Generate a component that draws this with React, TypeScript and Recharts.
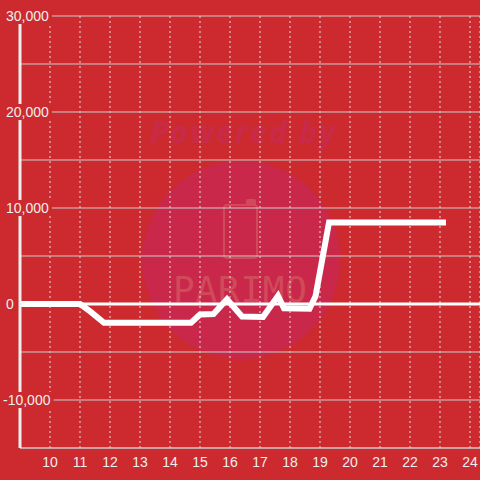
import React from "react";
import {
  LineChart,
  Line,
  CartesianGrid,
  XAxis,
  YAxis,
  ReferenceLine,
} from "recharts";

// ─── Data ─────────────────────────────────────────────────────────────────────

const hours = [
  9, 11, 11.35, 11.8, 14.7, 15.0, 15.45, 15.9, 16.4, 17.1, 17.6, 17.8, 18.65,
  18.85, 19.3, 23.2,
];
const values = [
  0, 0, -800, -1950, -1950, -1100, -1050, 500, -1300, -1350, 850, -450, -500,
  800, 8500, 8500,
];

const xTicks = [10, 11, 12, 13, 14, 15, 16, 17, 18, 19, 20, 21, 22, 23, 24];
const yTicks = [
  -15000, -10000, -5000, 0, 5000, 10000, 15000, 20000, 25000, 30000,
];

const data = hours.map((h, i) => ({ h, v: values[i] }));

// ─── Styles ───────────────────────────────────────────────────────────────────

const BG = "#cc2a2f";
const LABEL = "#eeeeee";
const FONT = "'Liberation Sans', Arial, sans-serif";

function labelWidth(s: string) {
  let w = 0;
  for (const c of s) w += c === "," ? 3.9 : c === "-" ? 4.7 : 7.8;
  return w;
}

function YTick(props: any) {
  const { y, payload } = props;
  const v = payload.value as number;
  if (v % 10000 !== 0) return null;
  const text = v.toLocaleString("en-US");
  const x = v < 0 ? 3 : 6;
  const w = labelWidth(text);
  return (
    <g>
      <rect x={x - 3} y={y - 8} width={w + 6} height={16} fill={BG} />
      <text
        x={x}
        y={y}
        dominantBaseline="central"
        fill={LABEL}
        fontSize={14}
        fontFamily={FONT}
      >
        {text}
      </text>
    </g>
  );
}

function XTick(props: any) {
  const { x, payload } = props;
  return (
    <text
      x={x}
      y={462}
      textAnchor="middle"
      dominantBaseline="central"
      fill={LABEL}
      fontSize={14}
      fontFamily={FONT}
    >
      {payload.value}
    </text>
  );
}

function Watermark() {
  return (
    <svg
      width={480}
      height={480}
      style={{ position: "absolute", left: 0, top: 0 }}
    >
      <circle cx={241} cy={260} r={99} fill="#c9284a" />
      <text
        x={150}
        y={143}
        fontSize={30}
        fontWeight="bold"
        fontStyle="italic"
        fontFamily="'Open Sans', sans-serif"
        fill="#c92a4a"
        textLength={185}
      >
        Powered by
      </text>
      <rect
        x={224}
        y={205}
        width={33}
        height={53}
        rx={3}
        fill="none"
        stroke="#d14a5a"
        strokeWidth={2}
      />
      <rect x={246} y={199} width={10} height={7} rx={2} fill="#d14a5a" />
      <text
        x={173}
        y={302}
        fontSize={36}
        fontFamily="'DejaVu Sans Mono', monospace"
        fill="#d14a5a"
        textLength={134}
      >
        PARIMO
      </text>
    </svg>
  );
}

// ─── Component ────────────────────────────────────────────────────────────────

export default function App() {
  return (
    <div
      style={{
        position: "absolute",
        left: 0,
        top: 0,
        width: 480,
        height: 480,
        background: BG,
      }}
    >
      <Watermark />
      <div style={{ position: "absolute", left: 0, top: 0 }}>
        <LineChart
          width={480}
          height={480}
          data={data}
          margin={{ top: 16, right: 0, left: 0, bottom: 0 }}
        >
          <CartesianGrid
            horizontal={false}
            stroke="#e0e0e0"
            strokeDasharray="2 3"
          />
          <CartesianGrid vertical={false} stroke="#cccccc" />
          <ReferenceLine y={0} stroke="#ffffff" strokeWidth={3} />
          <Line
            type="linear"
            dataKey="v"
            stroke="#ffffff"
            strokeWidth={6}
            dot={false}
            isAnimationActive={false}
          />
          <XAxis
            dataKey="h"
            type="number"
            domain={[9, 24.333]}
            ticks={xTicks}
            allowDataOverflow
            height={32}
            tickLine={false}
            axisLine={{ stroke: "#cccccc" }}
            tick={<XTick />}
            interval={0}
          />
          <YAxis
            type="number"
            domain={[-15000, 30000]}
            ticks={yTicks}
            width={20}
            tickLine={false}
            axisLine={{ stroke: "#eeeeee", strokeWidth: 3 }}
            tick={<YTick />}
            interval={0}
          />
        </LineChart>
      </div>
    </div>
  );
}
